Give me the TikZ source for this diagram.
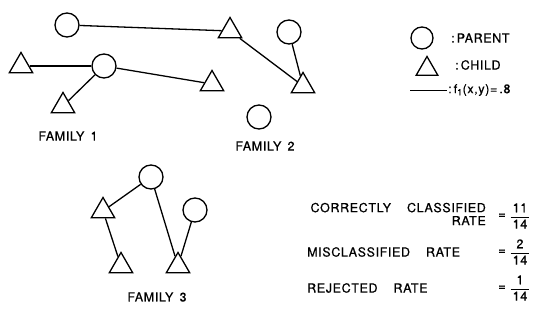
\documentclass[tikz,border=0pt]{standalone}
\usepackage{fontspec}
\setmainfont{TeX Gyre Heros}[LetterSpace=5,FakeBold=0.6]
\usetikzlibrary{shapes.geometric,positioning}

\tikzset{
  parent/.style={circle,draw,line width=1.3pt,minimum size=24pt,inner sep=0pt},
  child/.style={regular polygon,regular polygon sides=3,draw,line width=1.3pt,minimum size=27pt,inner sep=0pt},
  link/.style={line width=1.3pt},
  famtext/.style={font=\fontsize{12.5}{13}\selectfont,inner sep=0pt},
}
\newcommand{\ratefrac}[2]{$\displaystyle\frac{\mbox{\,#1\,}}{\mbox{\,#2\,}}$}

\begin{document}
\begin{tikzpicture}[x=1pt,y=-1pt]
    \useasboundingbox (0,0) rectangle (543,323);

    % Family 1
    \node[parent] (p1) at (104,66) {};
    \node[child] (c1a) at (21,66) {};
    \node[child] (c1b) at (63,106) {};
    \node[child] (c1c) at (212,84) {};
    \node[famtext] (fam1) at (68,136) {FAMILY\enspace 1};

    % Family 2
    \node[parent] (p2a) at (67,25) {};
    \node[parent] (p2b) at (289,32) {};
    \node[parent] (p2c) at (259,117) {};
    \node[child] (c2a) at (230,31) {};
    \node[child] (c2b) at (303,86) {};
    \node[famtext] (fam2) at (265,146) {FAMILY\enspace 2};

    % Family 3
    \node[parent] (p3a) at (151,177) {};
    \node[parent] (p3b) at (195,210) {};
    \node[child] (c3a) at (103,211) {};
    \node[child] (c3b) at (121,266) {};
    \node[child] (c3c) at (178,266) {};
    \node[famtext] (fam3) at (157,297) {FAMILY\enspace 3};

    % Links
    \draw[link] (c1a) -- (p1);
    \draw[link] (p1) -- (c1b);
    \draw[link] (p1) -- (c1c);
    \draw[link] (p2a) -- (c2a);
    \draw[link] (c2a) -- (c2b);
    \draw[link] (p2b) -- (c2b);
    \draw[link] (p3a) -- (c3a);
    \draw[link] (c3a) -- (c3b);
    \draw[link] (p3a) -- (c3c);
    \draw[link] (p3b) -- (c3c);

    % Legend
    \node[parent,minimum size=22pt] (kparent) at (422,38) {};
    \node[child,minimum size=25pt] (kchild) at (427,69) {};
    \coordinate (kline0) at (410,90);
    \coordinate (kline1) at (447,90);
    \draw[line width=0.9pt] (kline0) -- (kline1);
    \node[famtext,anchor=west] (kparenttext) at (451,38) {:\,PARENT};
    \node[famtext,anchor=west] (kchildtext) at (455,65) {:\,CHILD};
    \node[famtext,anchor=west] (klinetext) at (448,90) {:\,f\textsubscript{1}(x,y)=\,.8};

    % Rates
    \node[famtext,anchor=east,align=right] (rcorrect) at (486,214) {CORRECTLY\hspace{16pt}CLASSIFIED\\RATE};
    \node[famtext,anchor=west] (rmis) at (307,252) {MISCLASSIFIED\hspace{16pt}RATE};
    \node[famtext,anchor=west] (rrej) at (307,288) {REJECTED\hspace{16pt}RATE};
    \node[famtext] (eqcorrect) at (502,216) {=};
    \node[famtext] (eqmis) at (502,252) {=};
    \node[famtext] (eqrej) at (502,288) {=};
    \node[famtext] (fcorrect) at (520,216) {\ratefrac{11}{14}};
    \node[famtext] (fmis) at (520,252) {\ratefrac{2}{14}};
    \node[famtext] (frej) at (520,288) {\ratefrac{1}{14}};
\end{tikzpicture}
\end{document}
